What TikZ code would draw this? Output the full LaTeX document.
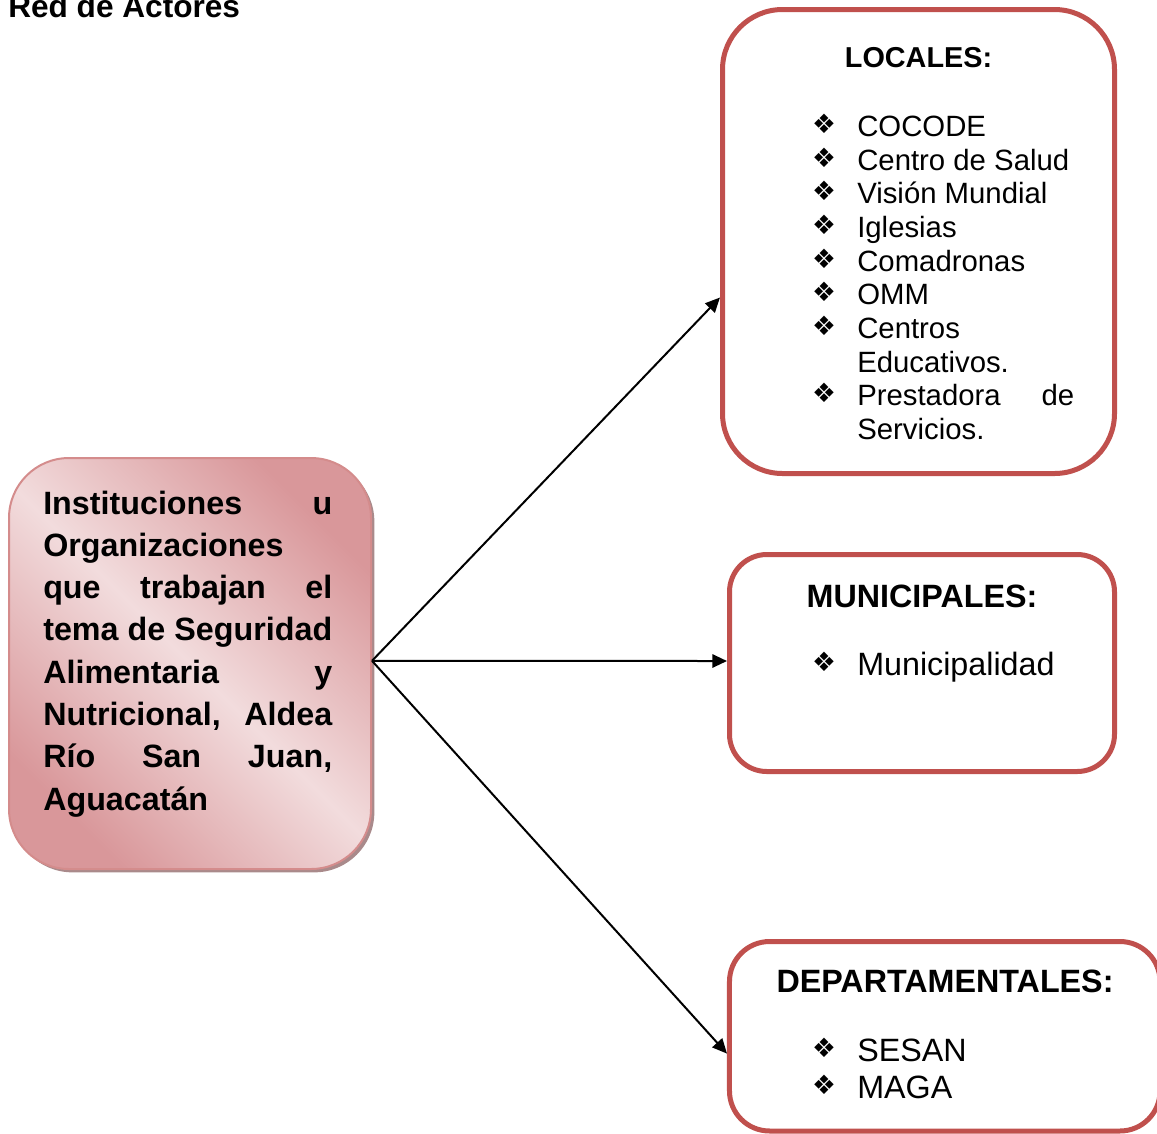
\documentclass[tikz,border=0pt]{standalone}
\usepackage{fontspec}
\setmainfont{Liberation Sans}
\newfontfamily\simbolos{DejaVu Sans}
\usetikzlibrary{arrows.meta,shadows}
\definecolor{rojo}{HTML}{C0504D}
\definecolor{rosaoscuro}{HTML}{D9979A}
\definecolor{rosaclaro}{HTML}{F2DCDD}
\definecolor{rosaborde}{HTML}{D48C8C}
\definecolor{rosasombra}{HTML}{A98A8B}

\begin{document}
\begin{tikzpicture}[x=0.75pt, y=-0.75pt,
    caja/.style={draw=rojo, line width=3.75pt, rounded corners=#1},
    flecha/.style={-{Triangle[length=11pt,width=10pt]}, line width=1.5pt},
    encabezado/.style={anchor=base, inner sep=0pt, font=\bfseries\fontsize{24.2pt}{28pt}\selectfont},
    elemento/.style={anchor=base west, inner sep=0pt, font=\fontsize{22pt}{25pt}\selectfont},
    grande/.style={font=\fontsize{24.2pt}{28pt}\selectfont},
    vineta/.style={inner sep=0pt, font=\simbolos\fontsize{20pt}{20pt}\selectfont},
    textoinst/.style={anchor=base west, inner sep=0pt, font=\bfseries\fontsize{24.2pt}{30pt}\selectfont}]

    \useasboundingbox (0,0) rectangle (1157,1133);
    \clip (0,0) rectangle (1157,1133);

    % titulo
    \node[anchor=base west, inner sep=0pt, font=\bfseries\fontsize{23.7pt}{28pt}\selectfont] (titulo) at (8,17) {Red de Actores};

    % caja de la izquierda
    \node[draw=rosaborde, line width=1.5pt, rounded corners=45pt, minimum width=271.5pt, minimum height=308.25pt,
          top color=rosaoscuro, bottom color=rosaoscuro, middle color=rosaclaro, shading angle=-45,
          drop shadow={shadow xshift=2.5pt, shadow yshift=-2.5pt, fill=rosasombra, opacity=1}] (inst) at (190,663.5) {};
    \foreach \linea [count=\i from 0] in {Instituciones u, Organizaciones, que trabajan el, tema de Seguridad,
        Alimentaria y, {Nutricional, Aldea}, {Río San Juan,}, Aguacatán}
        \node[textoinst] (t\i) at (43,514+42.3*\i) {\makebox[216.75pt][s]{\linea}};

    % cajas de la derecha
    \node[caja=45pt, minimum width=294pt, minimum height=348pt] (locales) at (918.5,241.5) {};
    \node[caja=28pt, minimum width=288.75pt, minimum height=162.75pt] (municipales) at (922,663) {};
    \node[caja=30pt, minimum width=322.9pt, minimum height=142.1pt] (deptos) at (944.75,1036.25) {};

    \node[encabezado, font=\bfseries\fontsize{21.6pt}{26pt}\selectfont] (tlocales) at (918.5,67) {LOCALES:};
    \node[encabezado] (tmunicipales) at (922,607) {MUNICIPALES:};
    \node[encabezado] (tdeptos) at (945,992) {DEPARTAMENTALES:};

    % listas
    \foreach \y/\txt in {136/COCODE, 170/Centro de Salud, 203/Visión Mundial, 237/Iglesias,
        271/Comadronas, 304/OMM, 338/Centros, 405/\makebox[162.75pt][s]{Prestadora de}} {
        \node[vineta] (v\y) at (824,\y-12) {❖};
        \node[elemento] (e\y) at (857,\y) {\txt};
    }
    \node[elemento] (e372) at (857,372) {Educativos.};
    \node[elemento] (e439) at (857,439) {Servicios.};
    \foreach \y/\txt in {675/Municipalidad, 1061/SESAN, 1098/MAGA} {
        \node[vineta] (v\y) at (824,\y-13) {❖};
        \node[elemento, grande] (e\y) at (857,\y) {\txt};
    }

    % flechas
    \draw[flecha] ([yshift=2pt]inst.east) -- ([yshift=-42pt]locales.west);
    \draw[flecha] ([yshift=2pt]inst.east) -- ([yshift=1.5pt]municipales.west);
    \draw[flecha] ([yshift=2pt]inst.east) -- ([yshift=-13pt]deptos.west);
\end{tikzpicture}
\end{document}
